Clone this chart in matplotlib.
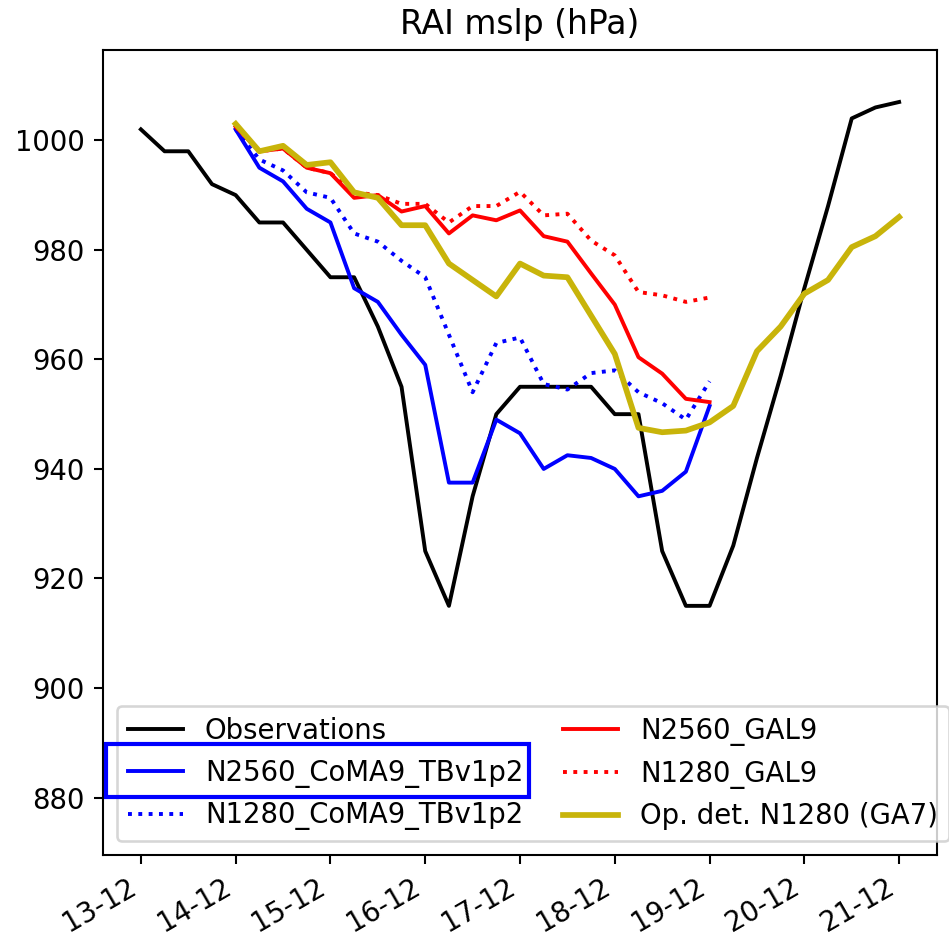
import matplotlib
matplotlib.use("Agg")
import matplotlib.pyplot as plt
import matplotlib.dates as mdates
from matplotlib.patches import Rectangle
from matplotlib.transforms import IdentityTransform
import pandas as pd

# 6-hourly times, Typhoon Rai, Dec 2021
obs_start = "2021-12-13 00:00"
model_start = "2021-12-14 00:00"

obs = [1002, 998, 998, 992, 990, 985, 985, 980, 975, 975, 966, 955,
       925, 915, 935, 950, 955, 955, 955, 955, 950, 950, 925, 915,
       915, 926, 942, 957, 973, 988, 1004, 1006, 1007]

n2560_coma9 = [1002, 995, 992.5, 987.5, 985, 973, 970.5, 964.5, 959, 937.5,
               937.5, 949, 946.5, 940, 942.5, 942, 940, 935, 936, 939.5, 951.5]

n1280_coma9 = [1002, 996.5, 994.5, 990.5, 989.5, 983, 981.5, 978, 975, 964.5,
               954, 963, 964, 955.5, 954.5, 957.5, 958, 954, 952, 949, 956]

n2560_gal9 = [1002.5, 998, 998.5, 995, 994, 989.5, 990, 987, 988, 983,
              986.3, 985.4, 987.2, 982.5, 981.5, 975.7, 970, 960.4, 957.4, 952.8, 952.2]

n1280_gal9 = [1002.5, 998, 998.5, 995, 994, 990.5, 990, 988.4, 988.4, 985,
              988, 988, 990.6, 986.3, 986.6, 981.7, 979, 972.3, 971.7, 970.5, 971.3]

opdet_ga7 = [1003, 998, 999, 995.5, 996, 990.5, 989.5, 984.5, 984.5, 977.5,
             974.5, 971.5, 977.5, 975.3, 975, 968, 961, 947.5, 946.7, 947,
             948.5, 951.5, 961.5, 966, 972, 974.5, 980.5, 982.5, 986]

obs_t = pd.date_range(obs_start, periods=len(obs), freq="6h")


def mtimes(vals):
    return pd.date_range(model_start, periods=len(vals), freq="6h")


plt.rcParams["font.size"] = 10.6

fig = plt.figure(figsize=(949 / 187, 939 / 187), dpi=187)
ax = fig.add_axes([0.1085, 0.0894, 0.8789, 0.8574])

ax.plot(obs_t, obs, color="k", lw=1.5, label="Observations")
ax.plot(mtimes(n2560_coma9), n2560_coma9, color="#0000ff", lw=1.5, label="N2560_CoMA9_TBv1p2")
ax.plot(mtimes(n1280_coma9), n1280_coma9, color="#0000ff", lw=1.5, ls=":", label="N1280_CoMA9_TBv1p2")
ax.plot(mtimes(n2560_gal9), n2560_gal9, color="#ff0000", lw=1.5, label="N2560_GAL9")
ax.plot(mtimes(n1280_gal9), n1280_gal9, color="#ff0000", lw=1.5, ls=":", label="N1280_GAL9")
ax.plot(mtimes(opdet_ga7), opdet_ga7, color="#c8b40a", lw=2.2, label="Op. det. N1280 (GA7)")

ax.set_ylim(869.5, 1016.5)
ax.set_title("RAI mslp (hPa)", fontsize=12.7)
ax.xaxis.set_major_locator(mdates.DayLocator())
ax.xaxis.set_major_formatter(mdates.DateFormatter("%d-%m"))
plt.setp(ax.get_xticklabels(), rotation=30, ha="right")

leg = ax.legend(loc="lower left", ncol=2, labelspacing=0.5, columnspacing=1.45)

# highlight box round the N2560_CoMA9_TBv1p2 legend entry
fig.canvas.draw()
r = fig.canvas.get_renderer()
tb = leg.get_texts()[1].get_window_extent(r)
axb = ax.get_window_extent(r)
yc = (tb.y0 + tb.y1) / 2 + 3
x0 = axb.x0 + 3
x1 = tb.x1 + 6
h = 53
fig.add_artist(Rectangle((x0, yc - h / 2), x1 - x0, h, transform=IdentityTransform(),
                         fill=False, ec="#0000ff", lw=1.6, zorder=10))

fig.savefig("out.png", dpi=187)
